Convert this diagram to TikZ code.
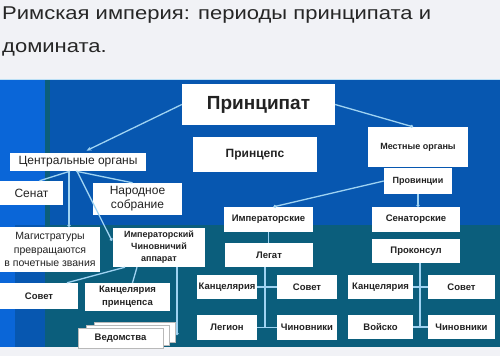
\documentclass[tikz,border=0pt]{standalone}
\usepackage{fontspec}
\setmainfont{Liberation Sans}
\newfontfamily\titlefont[FakeStretch=1.19]{Liberation Sans}
\usetikzlibrary{arrows.meta,calc}
\definecolor{pagebg}{HTML}{F1F2F6}
\definecolor{dblue}{HTML}{0757B0}
\definecolor{lblue}{HTML}{0A66D8}
\definecolor{tealbg}{HTML}{0B5E7C}
\definecolor{conn}{HTML}{9FD3F2}
\definecolor{ink}{HTML}{222222}
\definecolor{titleink}{HTML}{262626}
\begin{document}
\begin{tikzpicture}[x=1pt,y=-1pt,
  box/.style={fill=white,inner sep=0pt,align=center,text=ink,font=\fontsize{9.5}{12}\selectfont\bfseries},
  regbox/.style={box,font=\fontsize{12}{14}\selectfont},
  link/.style={draw=conn,line width=1.3pt},
  dotend/.style={link,-{Circle[length=3pt]}},
  arrend/.style={link,-{Stealth[length=5pt,width=4pt]}},
  sheet/.style={fill=white,draw=gray!55,line width=0.5pt},
  titletext/.style={anchor=base west,inner sep=0pt,text=titleink,font=\titlefont\fontsize{18.5}{22}\selectfont}]
\useasboundingbox (0,0) rectangle (500,356);
% background
\fill[pagebg] (0,0) rectangle (500,356);
\fill[dblue] (0,80) rectangle (500,347);
\fill[lblue] (0,80) rectangle (45,225);
\fill[lblue] (0,225) rectangle (15,347);
\fill[tealbg] (45,80) rectangle (50,225);
\fill[tealbg] (45,225) rectangle (500,347);
\draw[conn!70!white,line width=0.8pt] (0,79.6) -- (500,79.6);
% title
\node[titletext] (title1) at (2,19) {Римская империя: периоды принципата и};
\node[titletext] (title2) at (2,52) {домината.};
% nodes
\node[box,minimum width=153pt,minimum height=41pt,font=\fontsize{19}{22}\selectfont\bfseries] (princ) at (258.5,104.5) {Принципат};
\node[box,minimum width=124pt,minimum height=35pt,font=\fontsize{12}{14}\selectfont\bfseries] (princeps) at (255,154.5) {Принцепс};
\node[box,minimum width=100pt,minimum height=40pt,font=\fontsize{9}{11}\selectfont\bfseries] (mest) at (418,147) {Местные органы};
\node[box,minimum width=68pt,minimum height=26pt,font=\fontsize{9}{11}\selectfont\bfseries] (prov) at (418,181) {Провинции};
\node[regbox,minimum width=136pt,minimum height=18pt] (centr) at (78,162) {Центральные органы};
\node[regbox,minimum width=63pt,minimum height=24pt] (senat) at (31.5,193) {Сенат};
\node[regbox,minimum width=89pt,minimum height=32pt,font=\fontsize{12}{14}\selectfont] (narod) at (137.5,199) {Народное\\собрание};
\node[regbox,minimum width=100pt,minimum height=45pt,font=\fontsize{10.5}{13.5}\selectfont] (magist) at (50,249.5) {Магистратуры\\превращаются\\в почетные звания};
\node[box,minimum width=92pt,minimum height=39pt,font=\fontsize{9}{12}\selectfont\bfseries] (imperapp) at (159,247.5) {Императорский\\Чиновничий\\аппарат};
\node[box,minimum width=78pt,minimum height=26pt] (sovetL) at (39,296) {Совет};
\node[box,minimum width=85pt,minimum height=28pt,font=\fontsize{9.5}{13}\selectfont\bfseries] (kancpr) at (127.5,297) {Канцелярия\\принцепса};
\node[box,minimum width=89pt,minimum height=25pt] (imperskie) at (268.5,219.5) {Императорские};
\node[box,minimum width=88pt,minimum height=24pt] (legat) at (269,255) {Легат};
\node[box,minimum width=60pt,minimum height=24pt] (kancL) at (227,287) {Канцелярия};
\node[box,minimum width=60pt,minimum height=24pt] (sovetM) at (307,287) {Совет};
\node[box,minimum width=60pt,minimum height=25pt] (legion) at (227,327.5) {Легион};
\node[box,minimum width=60pt,minimum height=25pt] (chinM) at (307,327.5) {Чиновники};
\node[box,minimum width=88pt,minimum height=25pt] (senatskie) at (416,219.5) {Сенаторские};
\node[box,minimum width=88pt,minimum height=24pt] (prokons) at (416,251) {Проконсул};
\node[box,minimum width=65pt,minimum height=24pt] (kancR) at (380.5,287) {Канцелярия};
\node[box,minimum width=67pt,minimum height=24pt] (sovetR) at (461.5,287) {Совет};
\node[box,minimum width=65pt,minimum height=24pt] (voisko) at (380.5,327) {Войско};
\node[box,minimum width=67pt,minimum height=24pt] (chinR) at (461.5,327) {Чиновники};
% connectors
\draw[arrend,shorten >=5pt] (princ.west) -- ([xshift=4pt]centr.north);
\draw[dotend] (princ.east) -- ([xshift=-5pt]mest.north);
\draw[link] ([xshift=-8pt]centr.south) -- ([xshift=8pt]senat.north);
\draw[link] ([xshift=-2pt]centr.south) -- ([xshift=-5pt]narod.north);
\draw[dotend] ([xshift=-9pt]centr.south) -- ([xshift=19pt]magist.north);
\draw[dotend,shorten >=2pt] ([xshift=-1pt]centr.south) -- ([yshift=5pt]imperapp.west);
\draw[link] ([xshift=-34pt]imperapp.south) -- ([xshift=28pt]sovetL.north);
\draw[link] ([xshift=-22pt]imperapp.south) -- ([xshift=5pt]kancpr.north);
\draw[dotend] ([xshift=18pt]imperapp.south) -- ++(0,68);
\draw[dotend] (prov.west) -- ([xshift=5pt]imperskie.north);
\draw[dotend] (prov.south) -- (prov.south |- senatskie.north);
\draw[link] (imperskie.south) -- (imperskie.south |- legat.north);
\draw[link] ([xshift=-4pt]legat.south) -- ([xshift=-4pt]legat.south |- legion.east);
\draw[link] (kancL.east) -- (sovetM.west);
\draw[link] (legion.east) -- (chinM.west);
\draw[link] ([xshift=4pt]prokons.south) -- ([xshift=4pt]prokons.south |- voisko.east);
\draw[link] (kancR.east) -- (sovetR.west);
\draw[link] (voisko.east) -- (chinR.west);
% stacked sheets
\draw[sheet] (94,322) rectangle (175,342);
\draw[sheet] (86,325) rectangle (169,345);
\node[box,draw=gray!55,line width=0.5pt,minimum width=85pt,minimum height=20pt] (vedom) at (120.5,338) {Ведомства};
\end{tikzpicture}
\end{document}
